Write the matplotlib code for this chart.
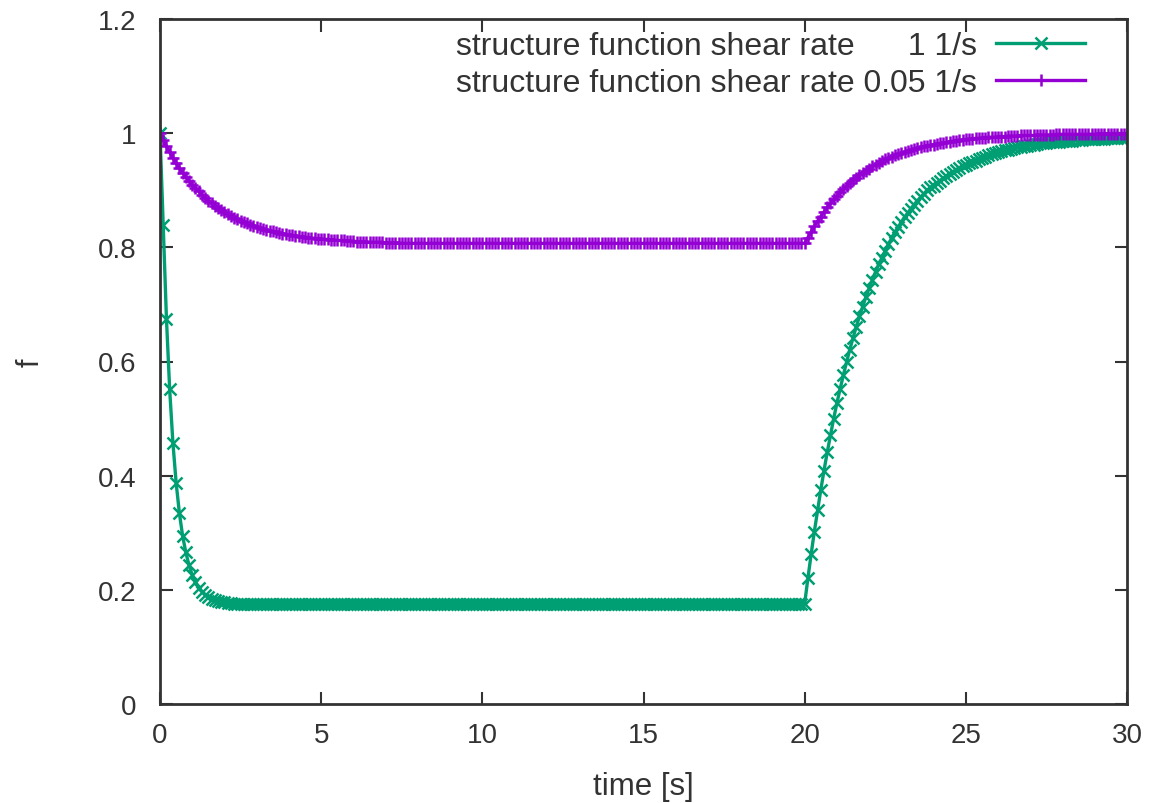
import numpy as np
import matplotlib
matplotlib.use("Agg")
import matplotlib.pyplot as plt

plt.rcParams['font.family'] = ['Liberation Sans', 'DejaVu Sans']

# ---- data ----
n_points = 301  # samples every 0.1 s from 0 to 30 s

# shear rate 1 1/s
green_decay = [1.000, 0.840, 0.675, 0.551, 0.458, 0.388, 0.335, 0.295, 0.266, 0.243,
               0.226, 0.214, 0.204, 0.197, 0.191, 0.187, 0.184, 0.182, 0.180, 0.179,
               0.178, 0.177, 0.177, 0.176, 0.176]
green_plateau = 0.176
green_recovery = [0.176, 0.220, 0.262, 0.302, 0.339, 0.375, 0.409, 0.441, 0.471, 0.500,
                  0.527, 0.552, 0.576, 0.599, 0.621, 0.641, 0.661, 0.679, 0.696, 0.713,
                  0.728, 0.743, 0.757, 0.770, 0.782, 0.794, 0.805, 0.816, 0.826, 0.835,
                  0.844, 0.853, 0.860, 0.868, 0.875, 0.882, 0.888, 0.894, 0.900, 0.905,
                  0.908, 0.913, 0.917, 0.921, 0.925, 0.929, 0.932, 0.936, 0.939, 0.942,
                  0.945, 0.947, 0.950, 0.952, 0.955, 0.957, 0.959, 0.961, 0.963, 0.965,
                  0.967, 0.968, 0.970, 0.971, 0.973, 0.974, 0.975, 0.976, 0.977, 0.978,
                  0.979, 0.980, 0.981, 0.982, 0.982, 0.983, 0.984, 0.984, 0.985, 0.985,
                  0.986, 0.986, 0.987, 0.987, 0.988, 0.988, 0.988, 0.989, 0.989, 0.989,
                  0.990, 0.990, 0.990, 0.990, 0.991, 0.991, 0.991, 0.991, 0.991, 0.992, 0.992]

# shear rate 0.05 1/s
purple_decay = [1.000, 0.988, 0.977, 0.967, 0.957, 0.948, 0.939, 0.931, 0.924, 0.917,
                0.910, 0.904, 0.898, 0.892, 0.887, 0.882, 0.877, 0.873, 0.869, 0.865,
                0.862, 0.858, 0.855, 0.852, 0.849, 0.847, 0.844, 0.842, 0.840, 0.838,
                0.836, 0.834, 0.832, 0.831, 0.829, 0.828, 0.827, 0.825, 0.824, 0.823,
                0.822, 0.821, 0.820, 0.819, 0.818, 0.818, 0.817, 0.816, 0.816, 0.815,
                0.815, 0.814, 0.814, 0.813, 0.813, 0.812, 0.812, 0.812, 0.811, 0.811,
                0.811, 0.810, 0.810, 0.810, 0.810, 0.809, 0.809, 0.809, 0.809, 0.809,
                0.808, 0.808, 0.808, 0.808, 0.808]
purple_plateau = 0.807
purple_recovery = [0.807, 0.817, 0.827, 0.837, 0.846, 0.854, 0.862, 0.870, 0.877, 0.884,
                   0.890, 0.897, 0.902, 0.908, 0.913, 0.918, 0.922, 0.927, 0.931, 0.934,
                   0.938, 0.942, 0.945, 0.948, 0.951, 0.954, 0.956, 0.959, 0.961, 0.963,
                   0.965, 0.967, 0.969, 0.971, 0.972, 0.974, 0.975, 0.977, 0.978, 0.979,
                   0.980, 0.981, 0.982, 0.983, 0.984, 0.985, 0.986, 0.987, 0.988, 0.988,
                   0.989, 0.990, 0.990, 0.991, 0.991, 0.992, 0.992, 0.993, 0.993, 0.993,
                   0.994, 0.994, 0.994, 0.995, 0.995, 0.995, 0.995, 0.996, 0.996, 0.996,
                   0.996, 0.996, 0.997, 0.997, 0.997, 0.997, 0.997, 0.997, 0.998, 0.998,
                   0.998, 0.998, 0.998, 0.998, 0.998, 0.998, 0.998, 0.998, 0.998, 0.998,
                   0.998, 0.999, 0.999, 0.999, 0.999, 0.999, 0.999, 0.999, 0.999, 0.999, 0.999]

labels = ["structure function shear rate      1 1/s",
          "structure function shear rate 0.05 1/s"]
x_ticks = [0, 5, 10, 15, 20, 25, 30]
y_ticks = [0, 0.2, 0.4, 0.6, 0.8, 1.0, 1.2]
y_ticklabels = ["0", "0.2", "0.4", "0.6", "0.8", "1", "1.2"]
x_label = "time [s]"
y_label = "f"

time = np.linspace(0, 30, n_points)
green = np.array(green_decay
                 + [green_plateau] * (n_points - len(green_decay) - len(green_recovery))
                 + green_recovery)
purple = np.array(purple_decay
                  + [purple_plateau] * (n_points - len(purple_decay) - len(purple_recovery))
                  + purple_recovery)

# ---- figure ----
fig = plt.figure(figsize=(11.51, 8.04), dpi=100)
ax = fig.add_axes([160 / 1151, 1 - 705 / 804, (1127 - 160) / 1151, (705 - 20) / 804])

fs = 20
ax.plot(time, green, color="#009E73", lw=2.4, marker="x", ms=8, mew=1.8, label=labels[0])
ax.plot(time, purple, color="#9400D3", lw=2.4, marker="+", ms=9, mew=1.8, label=labels[1])

ax.set_xlim(0, 30)
ax.set_ylim(0, 1.2)
ax.set_xticks(x_ticks)
ax.set_xticklabels([str(v) for v in x_ticks])
ax.set_yticks(y_ticks)
ax.set_yticklabels(y_ticklabels)
ax.tick_params(direction="in", length=9, width=1.5, top=True, right=True,
               labelsize=fs, colors="#333333", labelcolor="#333333")
ax.tick_params(axis="x", pad=13)
ax.tick_params(axis="y", pad=17)
for s in ax.spines.values():
    s.set_color("#333333")
    s.set_linewidth(2)

ax.set_xlabel(x_label, fontsize=22.5, color="#333333")
ax.xaxis.set_label_coords(0.5, -0.098)
ax.set_ylabel(y_label, fontsize=22, color="#333333")
ax.yaxis.set_label_coords(-0.118, 0.5)

leg = ax.legend(loc="upper right", bbox_to_anchor=(0.957, 0.982), frameon=False,
                markerfirst=False, fontsize=23, handlelength=2.8, handletextpad=0.6,
                labelspacing=0.2, borderpad=0, borderaxespad=0, numpoints=1)
for t in leg.get_texts():
    t.set_color("#333333")

fig.savefig("out.png", dpi=100)
